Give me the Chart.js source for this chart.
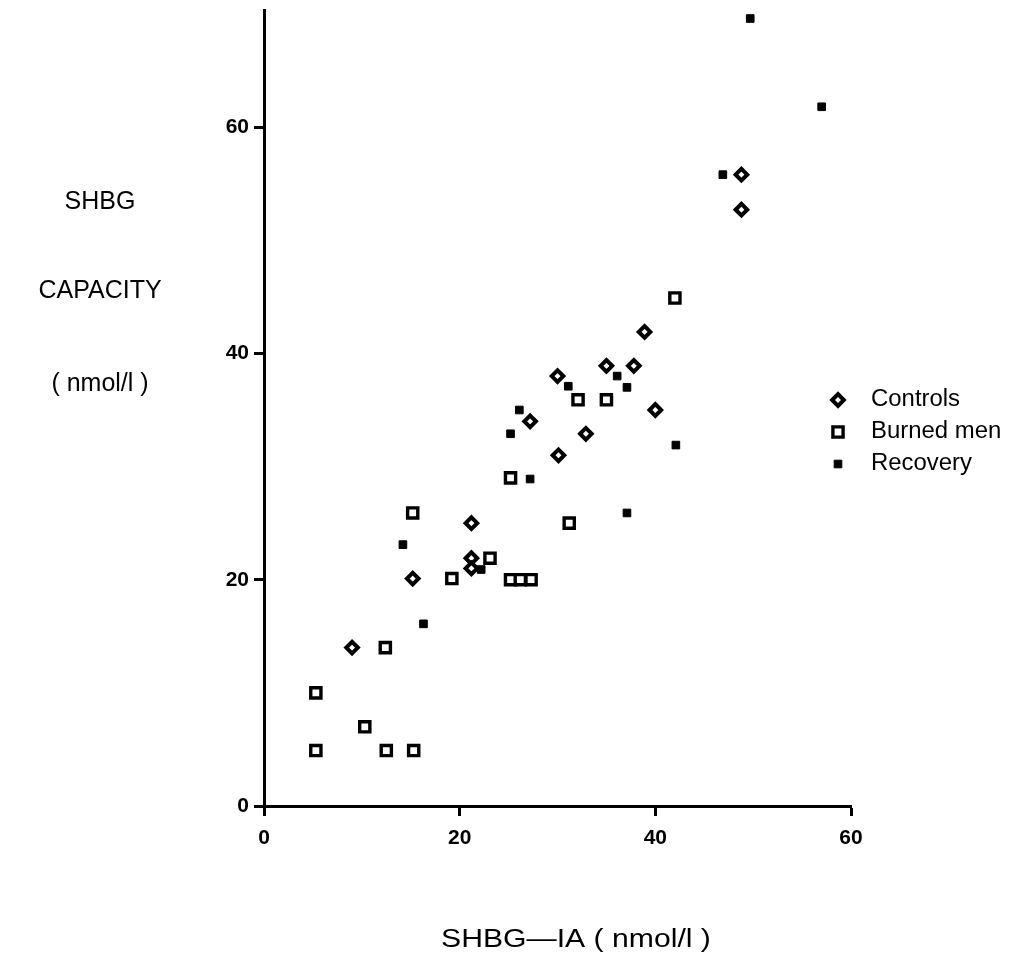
<!DOCTYPE html>
<html>
<head>
<meta charset="utf-8">
<title>SHBG capacity vs SHBG-IA</title>
<script src="https://cdn.jsdelivr.net/npm/chart.js@4.4.1/dist/chart.umd.min.js"></script>
<style>
  html, body { margin: 0; padding: 0; background: #fff; }
  #wrap { position: relative; width: 1012px; height: 966px; }
</style>
</head>
<body>
<div id="wrap"><canvas id="chart" width="1012" height="966"></canvas></div>
<script>
// ── Data (SHBG-IA x, SHBG capacity y, nmol/l) ────────────────────────────────

const controlsX = [48.8, 48.8, 38.9, 35.0, 37.8, 30.0, 27.2, 40.0, 32.9, 30.1, 21.2, 21.2, 21.2, 15.2, 9.0];
const controlsY = [55.8, 52.7, 41.9, 38.9, 38.9, 38.0, 34.0, 35.0, 32.9, 31.0, 25.0, 21.9, 21.0, 20.1, 14.0];

const burnedX = [42.0, 32.1, 35.0, 25.2, 15.2, 31.2, 23.1, 19.2, 25.2, 26.2, 27.3, 12.4, 5.3, 10.3, 5.3, 12.5, 15.3];
const burnedY = [44.9, 35.9, 35.9, 29.0, 25.9, 25.0, 21.9, 20.1, 20.0, 20.0, 20.0, 14.0, 10.0, 7.0, 4.9, 4.9, 4.9];

const recoveryX = [49.7, 57.0, 46.9, 31.1, 36.1, 37.1, 26.1, 25.2, 42.1, 27.2, 37.1, 14.2, 22.2, 16.3];
const recoveryY = [69.6, 61.8, 55.8, 37.1, 38.0, 37.0, 35.0, 32.9, 31.9, 28.9, 25.9, 23.1, 20.9, 16.1];

const seriesNames = ['Controls', 'Burned men', 'Recovery'];
const yTitleLines = ['SHBG', 'CAPACITY', '( nmol/l )'];
const xTitle = 'SHBG\u2014IA ( nmol/l )';

// ── Helpers ──────────────────────────────────────────────────────────────────

const FONT = '"Liberation Sans", Arial, Helvetica, sans-serif';

function toPoints(xs, ys) {
  return xs.map((x, i) => ({ x, y: ys[i] }));
}

// Styles je Serie (Plot + Legende teilen sich die Werte)
const pointStyles = [
  { pointStyle: 'rectRot', radius: 5.8, borderWidth: 4, bg: '#fff' },
  { pointStyle: 'rect', radius: 7.2, borderWidth: 3.4, bg: '#fff' },
  { pointStyle: 'rect', radius: 5.4, borderWidth: 1, bg: '#000' }
];

function makeDataset(i, xs, ys) {
  const s = pointStyles[i];
  return {
    label: seriesNames[i],
    data: toPoints(xs, ys),
    pointStyle: s.pointStyle,
    pointRadius: s.radius,
    pointHoverRadius: s.radius,
    pointBorderWidth: s.borderWidth,
    pointBackgroundColor: s.bg,
    pointBorderColor: '#000',
    showLine: false
  };
}

// Text leicht in die Breite ziehen (Scan wirkt breiter als Arial)
function wideText(ctx, text, x, y, sx) {
  ctx.save();
  ctx.translate(x, y);
  ctx.scale(sx, 1);
  ctx.fillText(text, 0, 0);
  ctx.restore();
}

// Titel + Legende frei positioniert, wie im Original
const paperText = {
  id: 'paperText',
  afterDraw(chart) {
    const ctx = chart.ctx;
    ctx.save();
    ctx.fillStyle = '#000';
    ctx.textBaseline = 'middle';

    // Y-Titel, drei Zeilen links
    ctx.textAlign = 'center';
    ctx.font = '25px ' + FONT;
    const yRows = [202, 291, 384];
    yTitleLines.forEach((t, i) => wideText(ctx, t, 100, yRows[i], 1.0));

    // X-Titel unten
    ctx.font = '26px ' + FONT;
    wideText(ctx, xTitle, 576, 940, 1.16);

    // Legende rechts
    const legRows = [400, 432, 464];
    ctx.textAlign = 'left';
    ctx.font = '23px ' + FONT;
    seriesNames.forEach((name, i) => {
      const s = pointStyles[i];
      ctx.save();
      ctx.lineWidth = s.borderWidth;
      ctx.strokeStyle = '#000';
      ctx.fillStyle = s.bg;
      Chart.helpers.drawPoint(ctx, { pointStyle: s.pointStyle, radius: s.radius, borderWidth: s.borderWidth, rotation: 0 }, 838, legRows[i]);
      ctx.restore();
      wideText(ctx, name, 871, legRows[i], 1.04);
    });
    ctx.restore();
  }
};

// ── Chart ────────────────────────────────────────────────────────────────────

const tickFont = { family: FONT, size: 21, weight: 'bold' };

new Chart(document.getElementById('chart'), {
  type: 'scatter',
  data: {
    datasets: [
      makeDataset(0, controlsX, controlsY),
      makeDataset(1, burnedX, burnedY),
      makeDataset(2, recoveryX, recoveryY)
    ]
  },
  options: {
    responsive: false,
    animation: false,
    events: [],
    layout: { padding: { top: 8, right: 161, left: 0, bottom: 0 } },
    plugins: {
      legend: { display: false },
      tooltip: { enabled: false }
    },
    scales: {
      x: {
        type: 'linear',
        min: 0,
        max: 60,
        ticks: { stepSize: 20, color: '#000', font: tickFont, padding: 10 },
        grid: { drawOnChartArea: false, drawTicks: true, tickLength: 10, tickWidth: 3, tickColor: '#000' },
        border: { display: true, color: '#000', width: 3 },
        afterFit(scale) { scale.height = 160; scale.paddingLeft = 0; scale.paddingRight = 0; }
      },
      y: {
        type: 'linear',
        min: 0,
        max: 70.3,
        ticks: { stepSize: 20, includeBounds: false, color: '#000', font: tickFont, padding: 5 },
        grid: { drawOnChartArea: false, drawTicks: true, tickLength: 10, tickWidth: 3, tickColor: '#000' },
        border: { display: true, color: '#000', width: 3 },
        afterFit(scale) { scale.width = 264; scale.paddingTop = 0; scale.paddingBottom = 0; }
      }
    }
  },
  plugins: [paperText]
});
</script>
</body>
</html>
